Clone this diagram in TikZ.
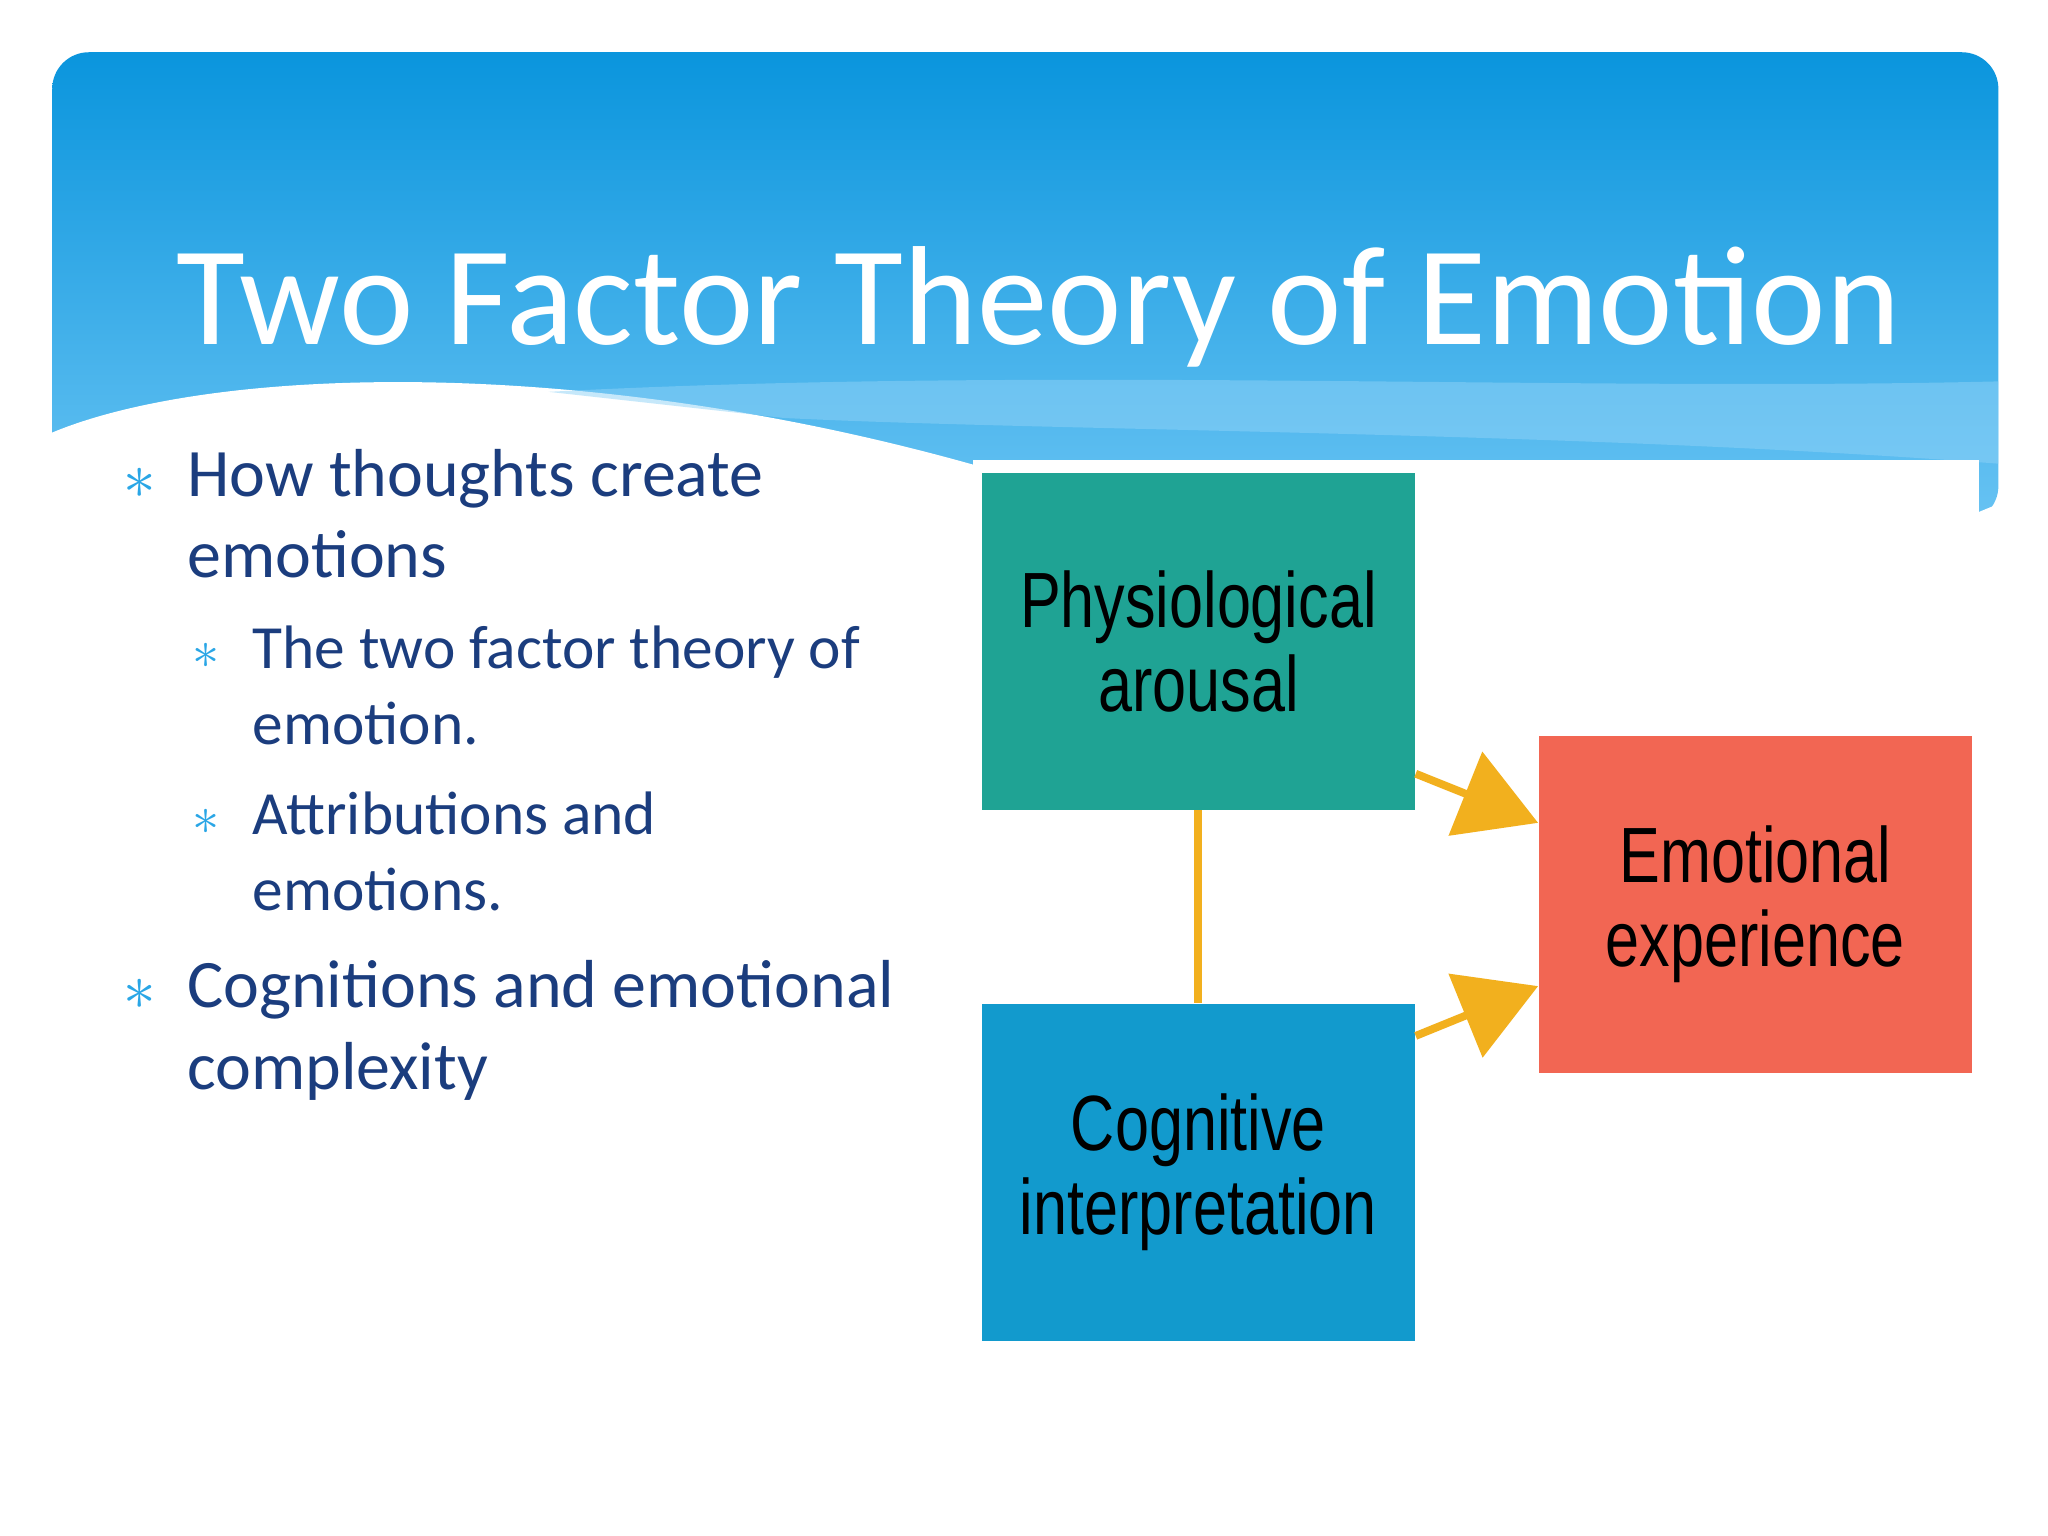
\documentclass[tikz,border=0pt]{standalone}
\usepackage{fontspec}
\setmainfont{Carlito}
\newfontfamily\cond[FakeStretch=0.78]{Liberation Sans}
\usetikzlibrary{arrows.meta}
\definecolor{txt}{HTML}{1B3D7E}
\definecolor{bul}{HTML}{2AA6E6}
\definecolor{teal}{HTML}{1FA394}
\definecolor{cblue}{HTML}{129ACD}
\definecolor{cred}{HTML}{F26653}
\definecolor{org}{HTML}{F2B01E}
\definecolor{htop}{HTML}{0A95DD}
\definecolor{hbot}{HTML}{68C3F3}
\definecolor{hband}{HTML}{8FD2F7}
\tikzset{
  mainb/.style={anchor=base west,text=txt,font=\fontsize{26}{30}\selectfont,inner sep=0pt},
  subb/.style={anchor=base west,text=txt,font=\fontsize{23.5}{28}\selectfont,inner sep=0pt},
  bmark/.style={anchor=base,text=bul,inner sep=0pt},
  box/.style={draw=none,inner sep=0pt,minimum width=166pt,minimum height=129pt,align=center,font=\cond\fontsize{30}{36}\selectfont,text=black},
  arr/.style={org,line width=3pt,-{Triangle[length=30pt,width=34pt]}}
}
\begin{document}
\begin{tikzpicture}[x=0.5pt,y=-0.5pt]
\useasboundingbox (0,0) rectangle (1568,1176);
\fill[white] (0,0) rectangle (1568,1176);
% header
\shade[top color=htop, bottom color=hbot, rounded corners=14pt]
  (40,400) -- (40,40) -- (1530,40) -- (1530,400) -- cycle;
\fill[white] (38,332) .. controls (160,280) and (450,270) .. (760,360) -- (38,420) -- cycle;
\fill[white] (38,360) rectangle (760,420);
\fill[white] (1515,392) -- (1532,385) -- (1532,420) -- (1515,420) -- cycle;
\fill[hband,opacity=0.5] (420,300) .. controls (800,280) and (1200,300) .. (1530,292) -- (1530,355) .. controls (1200,330) and (800,330) .. (600,320) -- cycle;
\fill[white] (745,352) rectangle (1515,1176);
\node[anchor=base west,text=white,font=\fontsize{54}{60}\selectfont,inner sep=0pt] (title) at (135,264) {Two Factor Theory of Emotion};
% bullets
\node[bmark,font=\fontsize{24}{28}\selectfont] (m1) at (107,382) {$\ast$};
\node[mainb] (t1) at (143,380) {How thoughts create};
\node[mainb] (t2) at (143,442) {emotions};
\node[bmark,font=\fontsize{20}{24}\selectfont] (m2) at (158,512) {$\ast$};
\node[subb] (t3) at (193,512) {The two factor theory of};
\node[subb] (t4) at (193,570) {emotion.};
\node[bmark,font=\fontsize{20}{24}\selectfont] (m3) at (158,639) {$\ast$};
\node[subb] (t5) at (193,639) {Attributions and};
\node[subb] (t6) at (193,697) {emotions.};
\node[bmark,font=\fontsize{24}{28}\selectfont] (m4) at (107,773) {$\ast$};
\node[mainb] (t7) at (143,771) {Cognitions and emotional};
\node[mainb] (t8) at (143,834) {complexity};
% diagram
\node[box,fill=teal] (pa) at (917.5,491) {Physiological\\[-4pt]arousal};
\node[box,fill=cblue] (ci) at (917.5,897.5) {Cognitive\\[-4pt]interpretation};
\node[box,fill=cred] (ee) at (1344,692.5) {Emotional\\[-4pt]experience};
\draw[org,line width=3pt] (pa.south) -- (ci.north);
\draw[arr] (pa.south east) ++(0,-28) coordinate (a1) -- (ee.west |- 0,630);
\draw[arr] (ci.north east) ++(0,25) coordinate (a2) -- (ee.west |- 0,755);
\end{tikzpicture}
\end{document}
